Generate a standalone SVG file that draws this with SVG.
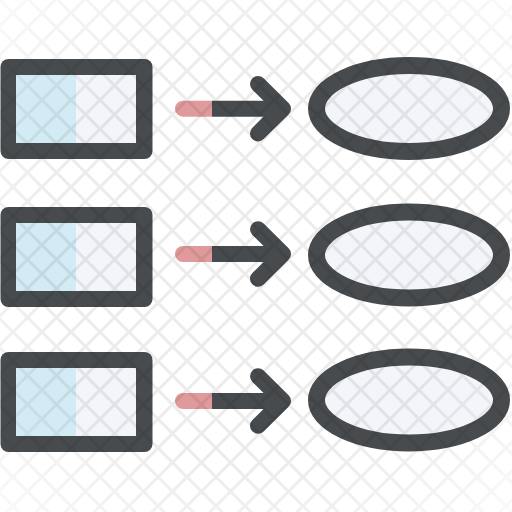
<svg xmlns="http://www.w3.org/2000/svg" width="512" height="512" viewBox="0 0 512 512">
  <defs>
    <style>
      .frame { fill: #474b4e; }
      .blue { fill: #d3ebf5; }
      .pale { fill: #f4f5fa; }
      .tail { stroke: #e09a9b; stroke-width: 16; fill: none; }
      .shaft { stroke: #474b4e; stroke-width: 16; fill: none; }
      .head { stroke: #474b4e; stroke-width: 16; fill: none; stroke-linecap: round; stroke-linejoin: round; }
      .oval { fill: #f4f5fa; stroke: #474b4e; stroke-width: 17; }
    </style>
    <pattern id="lattice" x="13" y="13" width="29" height="29" patternUnits="userSpaceOnUse">
      <path d="M-2,-2 L31,31 M31,-2 L-2,31" stroke="#000" stroke-opacity="0.075" stroke-width="3" fill="none"/>
    </pattern>
    <radialGradient id="fade" cx="0.5" cy="0.5" r="0.75">
      <stop offset="0.55" stop-color="#fff"/>
      <stop offset="1" stop-color="#fff" stop-opacity="0.2"/>
    </radialGradient>
    <mask id="fadeMask">
      <rect width="512" height="512" fill="url(#fade)"/>
    </mask>
  </defs>
  <rect width="512" height="512" fill="#ffffff"/>

  <g id="row1">
    <g id="rect1">
      <rect class="frame" x="0.5" y="59" width="152" height="100" rx="8"/>
      <rect class="blue" x="16" y="75" width="60" height="68"/>
      <rect class="pale" x="76" y="75" width="60" height="68"/>
    </g>
    <g id="oval1">
      <ellipse class="oval" cx="409" cy="108.5" rx="92.5" ry="43"/>
    </g>
  </g>
  <g id="row2">
    <g id="rect2">
      <rect class="frame" x="0.5" y="207" width="152" height="100" rx="8"/>
      <rect class="blue" x="16" y="223" width="60" height="68"/>
      <rect class="pale" x="76" y="223" width="60" height="68"/>
    </g>
    <g id="oval2">
      <ellipse class="oval" cx="409" cy="255" rx="92.5" ry="43"/>
    </g>
  </g>
  <g id="row3">
    <g id="rect3">
      <rect class="frame" x="0.5" y="352" width="152" height="100" rx="8"/>
      <rect class="blue" x="16" y="368" width="60" height="68"/>
      <rect class="pale" x="76" y="368" width="60" height="68"/>
    </g>
    <g id="oval3">
      <ellipse class="oval" cx="409" cy="400" rx="92.5" ry="43"/>
    </g>
  </g>

  <g id="connectors">
    <g id="arrow1">
      <line class="tail" x1="183" y1="108.7" x2="212" y2="108.7"/>
      <circle cx="183" cy="108.7" r="8" fill="#e09a9b"/>
      <line class="shaft" x1="212" y1="108.7" x2="278" y2="108.7"/>
      <polyline class="head" points="258,84 283,108.7 258,133.4"/>
    </g>
    <g id="arrow2">
      <line class="tail" x1="183" y1="254" x2="212" y2="254"/>
      <circle cx="183" cy="254" r="8" fill="#e09a9b"/>
      <line class="shaft" x1="212" y1="254" x2="278" y2="254"/>
      <polyline class="head" points="258,229.3 283,254 258,278.7"/>
    </g>
    <g id="arrow3">
      <line class="tail" x1="183" y1="401" x2="212" y2="401"/>
      <circle cx="183" cy="401" r="8" fill="#e09a9b"/>
      <line class="shaft" x1="212" y1="401" x2="278" y2="401"/>
      <polyline class="head" points="258,376.3 283,401 258,425.7"/>
    </g>
  </g>

  <rect width="512" height="512" fill="url(#lattice)" mask="url(#fadeMask)"/>
</svg>
